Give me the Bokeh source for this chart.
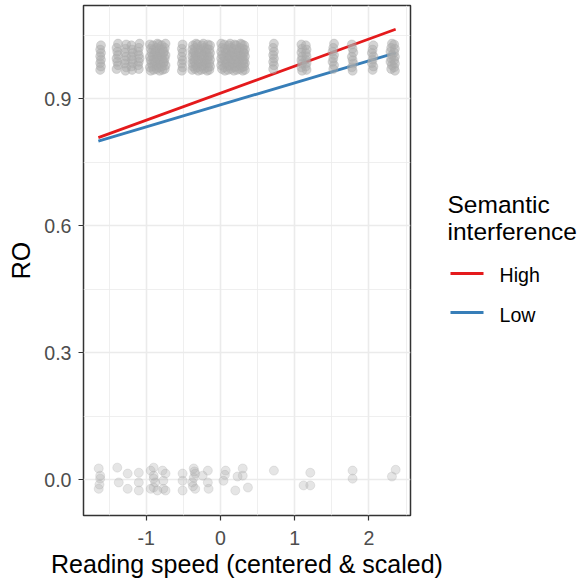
from bokeh.plotting import figure
from bokeh.layouts import row
from bokeh.models import Range1d, FixedTicker, PrintfTickFormatter
from bokeh.core.properties import value
from bokeh.embed import file_html
from bokeh.resources import INLINE

# ---------------- data ----------------
# observations with RO = 1 (jittered vertically), one line per reader
top_x = [
    -1.62, -1.61, -1.62, -1.61, -1.62, -1.61, -1.62, -1.61,
    -1.40, -1.38, -1.39, -1.40, -1.38, -1.39, -1.40, -1.38,
    -1.28, -1.27, -1.29, -1.28, -1.27, -1.29, -1.28, -1.27,
    -1.19, -1.20, -1.18, -1.19, -1.20, -1.18, -1.19, -1.20,
    -1.10, -1.11, -1.10, -1.09, -1.10, -1.11, -1.10, -1.09,
    -0.94, -0.95, -0.93, -0.94, -0.95, -0.93, -0.94, -0.95,
    -0.90, -0.91, -0.89, -0.90, -0.91, -0.89, -0.90, -0.91,
    -0.86, -0.85, -0.87, -0.86, -0.85, -0.87, -0.86, -0.85,
    -0.82, -0.83, -0.81, -0.82, -0.83, -0.81, -0.82, -0.83,
    -0.78, -0.79, -0.77, -0.78, -0.79, -0.77, -0.78, -0.79,
    -0.75, -0.74, -0.76, -0.75, -0.74, -0.76, -0.75, -0.74,
    -0.52, -0.51, -0.52, -0.51, -0.52, -0.51, -0.52, -0.51,
    -0.38, -0.37, -0.38, -0.37, -0.38, -0.37, -0.38, -0.37,
    -0.34, -0.33, -0.35, -0.34, -0.33, -0.35, -0.34, -0.33,
    -0.30, -0.31, -0.29, -0.30, -0.31, -0.29, -0.30, -0.31,
    -0.26, -0.25, -0.27, -0.26, -0.25, -0.27, -0.26, -0.25,
    -0.22, -0.23, -0.21, -0.22, -0.23, -0.21, -0.22, -0.23,
    -0.18, -0.17, -0.19, -0.18, -0.17, -0.19, -0.18, -0.17,
    -0.15, -0.14, -0.15, -0.14, -0.15, -0.14, -0.15, -0.14,
    0.02, 0.01, 0.02, 0.01, 0.02, 0.01, 0.02, 0.01,
    0.06, 0.05, 0.07, 0.06, 0.05, 0.07, 0.06, 0.05,
    0.10, 0.11, 0.09, 0.10, 0.11, 0.09, 0.10, 0.11,
    0.14, 0.13, 0.15, 0.14, 0.13, 0.15, 0.14, 0.13,
    0.18, 0.19, 0.17, 0.18, 0.19, 0.17, 0.18, 0.19,
    0.22, 0.21, 0.23, 0.22, 0.21, 0.23, 0.22, 0.21,
    0.26, 0.27, 0.25, 0.26, 0.27, 0.25, 0.26, 0.27,
    0.30, 0.29, 0.31, 0.30, 0.29, 0.31, 0.30, 0.29,
    0.33, 0.32, 0.33, 0.32, 0.33, 0.32, 0.33, 0.32,
    0.71, 0.72, 0.71, 0.72, 0.71, 0.72, 0.71, 0.72,
    1.10, 1.09, 1.10, 1.09, 1.10, 1.09, 1.10, 1.09,
    1.16, 1.15, 1.16, 1.15, 1.16, 1.15, 1.16, 1.15,
    1.52, 1.53, 1.51, 1.52, 1.53, 1.51, 1.52, 1.53,
    1.78, 1.77, 1.79, 1.78, 1.77, 1.79, 1.78, 1.77,
    2.05, 2.06, 2.04, 2.05, 2.06, 2.04, 2.05, 2.06,
    2.30, 2.31, 2.29, 2.30, 2.31, 2.29, 2.30, 2.31,
    2.35, 2.34, 2.35, 2.34, 2.35, 2.34, 2.35, 2.34,
]
top_y = [
    0.968, 0.976, 0.984, 0.992, 1.000, 1.008, 1.016, 1.026,
    0.970, 0.979, 0.987, 0.995, 1.003, 1.011, 1.020, 1.030,
    0.966, 0.974, 0.983, 0.991, 0.999, 1.009, 1.018, 1.028,
    0.968, 0.976, 0.984, 0.992, 1.000, 1.008, 1.016, 1.026,
    0.970, 0.979, 0.987, 0.995, 1.003, 1.011, 1.020, 1.030,
    0.966, 0.974, 0.983, 0.991, 0.999, 1.009, 1.018, 1.028,
    0.968, 0.976, 0.984, 0.992, 1.000, 1.008, 1.016, 1.026,
    0.970, 0.979, 0.987, 0.995, 1.003, 1.011, 1.020, 1.030,
    0.966, 0.974, 0.983, 0.991, 0.999, 1.009, 1.018, 1.028,
    0.968, 0.976, 0.984, 0.992, 1.000, 1.008, 1.016, 1.026,
    0.970, 0.979, 0.987, 0.995, 1.003, 1.011, 1.020, 1.030,
    0.966, 0.974, 0.983, 0.991, 0.999, 1.009, 1.018, 1.028,
    0.968, 0.976, 0.984, 0.992, 1.000, 1.008, 1.016, 1.026,
    0.970, 0.979, 0.987, 0.995, 1.003, 1.011, 1.020, 1.030,
    0.966, 0.974, 0.983, 0.991, 0.999, 1.009, 1.018, 1.028,
    0.968, 0.976, 0.984, 0.992, 1.000, 1.008, 1.016, 1.026,
    0.970, 0.979, 0.987, 0.995, 1.003, 1.011, 1.020, 1.030,
    0.966, 0.974, 0.983, 0.991, 0.999, 1.009, 1.018, 1.028,
    0.968, 0.976, 0.984, 0.992, 1.000, 1.008, 1.016, 1.026,
    0.970, 0.979, 0.987, 0.995, 1.003, 1.011, 1.020, 1.030,
    0.966, 0.974, 0.983, 0.991, 0.999, 1.009, 1.018, 1.028,
    0.968, 0.976, 0.984, 0.992, 1.000, 1.008, 1.016, 1.026,
    0.970, 0.979, 0.987, 0.995, 1.003, 1.011, 1.020, 1.030,
    0.966, 0.974, 0.983, 0.991, 0.999, 1.009, 1.018, 1.028,
    0.968, 0.976, 0.984, 0.992, 1.000, 1.008, 1.016, 1.026,
    0.970, 0.979, 0.987, 0.995, 1.003, 1.011, 1.020, 1.030,
    0.966, 0.974, 0.983, 0.991, 0.999, 1.009, 1.018, 1.028,
    0.968, 0.976, 0.984, 0.992, 1.000, 1.008, 1.016, 1.026,
    0.970, 0.979, 0.987, 0.995, 1.003, 1.011, 1.020, 1.030,
    0.966, 0.974, 0.983, 0.991, 0.999, 1.009, 1.018, 1.028,
    0.968, 0.976, 0.984, 0.992, 1.000, 1.008, 1.016, 1.026,
    0.970, 0.979, 0.987, 0.995, 1.003, 1.011, 1.020, 1.030,
    0.966, 0.974, 0.983, 0.991, 0.999, 1.009, 1.018, 1.028,
    0.968, 0.976, 0.984, 0.992, 1.000, 1.008, 1.016, 1.026,
    0.970, 0.979, 0.987, 0.995, 1.003, 1.011, 1.020, 1.030,
    0.966, 0.974, 0.983, 0.991, 0.999, 1.009, 1.018, 1.028,
]

# observations with RO = 0 (jittered vertically)
bottom_x = [
    -1.64, -1.62, -1.64, -1.62, -1.63,
    -1.39, -1.37,
    -1.25, -1.25,
    -1.10, -1.10, -1.10,
    -0.94, -0.90, -0.90, -0.88, -0.90, -0.85, -0.94, -0.90,
    -0.78, -0.74, -0.77, -0.77, -0.74,
    -0.51, -0.51, -0.51,
    -0.36, -0.34, -0.38, -0.34, -0.36, -0.35, -0.37,
    -0.24, -0.17, -0.16, -0.17,
    0.07, 0.04, 0.06,
    0.20, 0.30, 0.30, 0.37, 0.23,
    0.72,
    1.21, 1.12, 1.21,
    1.78, 1.78,
    2.36, 2.31,
]
bottom_y = [
    0.027, 0.003, -0.021, 0.010, -0.011,
    0.029, -0.006,
    0.015, -0.021,
    0.017, -0.006, -0.025,
    0.022, 0.029, 0.010, -0.006, -0.018, -0.025, -0.021, 0.003,
    0.022, 0.015, -0.002, -0.021, -0.025,
    0.015, -0.002, -0.025,
    0.027, 0.015, -0.006, -0.021, 0.005, 0.020, -0.015,
    0.010, 0.022, -0.021, -0.006,
    0.022, -0.002, 0.012,
    -0.025, 0.027, 0.010, -0.018, 0.008,
    0.022,
    0.017, -0.013, -0.013,
    0.022, 0.003,
    0.024, 0.008,
]

# fitted regression lines per semantic-interference level
series_names = ["High", "Low"]
series_colors = ["#E41A1C", "#377EB8"]
line_x = [-1.645, 2.36]
high_y = [0.808, 1.064]
low_y = [0.800, 1.008]
legend_title = ["Semantic", "interference"]

x_ticks = [-1, 0, 1, 2]
x_minor = [-1.5, -0.5, 0.5, 1.5, 2.5]
y_ticks = [0.0, 0.3, 0.6, 0.9]
y_minor = [0.15, 0.45, 0.75, 1.05]

# ---------------- layout ----------------
H = 586
PW = 445          # width of the plot part
LW = 581 - PW     # width of the legend part
L, R, T, B = 83, 410, 5, 515
X0, X1 = -1.845, 2.56
Y0, Y1 = -0.084, 1.12
FONT = "Liberation Sans"

p = figure(width=PW, height=H, x_range=Range1d(X0, X1), y_range=Range1d(Y0, Y1),
           output_backend="svg", toolbar_location=None,
           min_border_left=L, min_border_right=PW - R,
           min_border_top=T, min_border_bottom=H - B)
p.background_fill_color = "white"
p.border_fill_color = "white"
p.outline_line_color = "#333333"
p.outline_line_width = 1.5

xt = FixedTicker(ticks=x_ticks, minor_ticks=x_minor)
yt = FixedTicker(ticks=y_ticks, minor_ticks=y_minor)
p.xaxis.ticker = xt
p.yaxis.ticker = yt
p.xgrid.ticker = xt
p.ygrid.ticker = yt
for g in (p.xgrid, p.ygrid):
    g.grid_line_color = "#ebebeb"
    g.grid_line_width = 1.6
    g.minor_grid_line_color = "#ebebeb"
    g.minor_grid_line_width = 0.8

p.xaxis.formatter = PrintfTickFormatter(format="%d")
p.yaxis.formatter = PrintfTickFormatter(format="%.1f")
for ax in (p.xaxis, p.yaxis):
    ax.axis_line_color = None
    ax.major_tick_line_color = "#333333"
    ax.major_tick_line_width = 1.2
    ax.major_tick_in = 0
    ax.major_tick_out = 5
    ax.minor_tick_line_color = None
    ax.major_label_text_font = FONT
    ax.major_label_text_font_size = "19.6px"
    ax.major_label_text_color = "#4d4d4d"
    ax.axis_label_text_font = FONT
    ax.axis_label_text_font_size = "25px"
    ax.axis_label_text_font_style = "normal"
    ax.axis_label_text_color = "black"

p.xaxis.axis_label = "Reading speed (centered & scaled)"
p.yaxis.axis_label = "RO"
p.xaxis.major_label_standoff = 10
p.xaxis.axis_label_standoff = 2
p.yaxis.major_label_standoff = 7
p.yaxis.axis_label_standoff = 6

# regression lines (drawn under the points)
p.line(line_x, high_y, line_color=series_colors[0], line_width=2.8)
p.line(line_x, low_y, line_color=series_colors[1], line_width=2.8)

# points (the dense RO = 1 band saturates into solid grey in the reference)
p.scatter(top_x, top_y, size=9, marker="circle",
          fill_color="#a9a9a9", fill_alpha=0.5,
          line_color="#a9a9a9", line_alpha=0.35, line_width=1)
p.scatter(bottom_x, bottom_y, size=9, marker="circle",
          fill_color="#a9a9a9", fill_alpha=0.3,
          line_color="#a9a9a9", line_alpha=0.25, line_width=1)

# ---------------- legend panel (page pixel coordinates, y downwards) ----------------
# its frame is aligned with the plot frame (page y 5..515)
q = figure(width=LW, height=H, x_range=Range1d(PW, 581), y_range=Range1d(B, T),
           output_backend="svg", toolbar_location=None,
           min_border_left=0, min_border_right=0, min_border_top=T, min_border_bottom=H - B)
q.axis.visible = False
q.grid.visible = False
q.outline_line_color = None
q.background_fill_color = "white"
q.border_fill_color = "white"

q.text(x=[447, 447], y=[204, 231], text=legend_title,
       text_font=value(FONT), text_font_size="24.5px", text_color="black",
       text_baseline="alphabetic", text_align="left")
key_y = [273, 312]
lab_y = [274.7, 314.7]
for i in range(2):
    q.line([450, 483], [key_y[i], key_y[i]], line_color=series_colors[i], line_width=2.8)
q.text(x=[499, 499], y=lab_y, text=series_names,
       text_font=value(FONT), text_font_size="19.6px", text_color="black",
       text_baseline="alphabetic", text_align="left")

layout = row(p, q, spacing=0)
open("out.html", "w").write(file_html(layout, INLINE))
